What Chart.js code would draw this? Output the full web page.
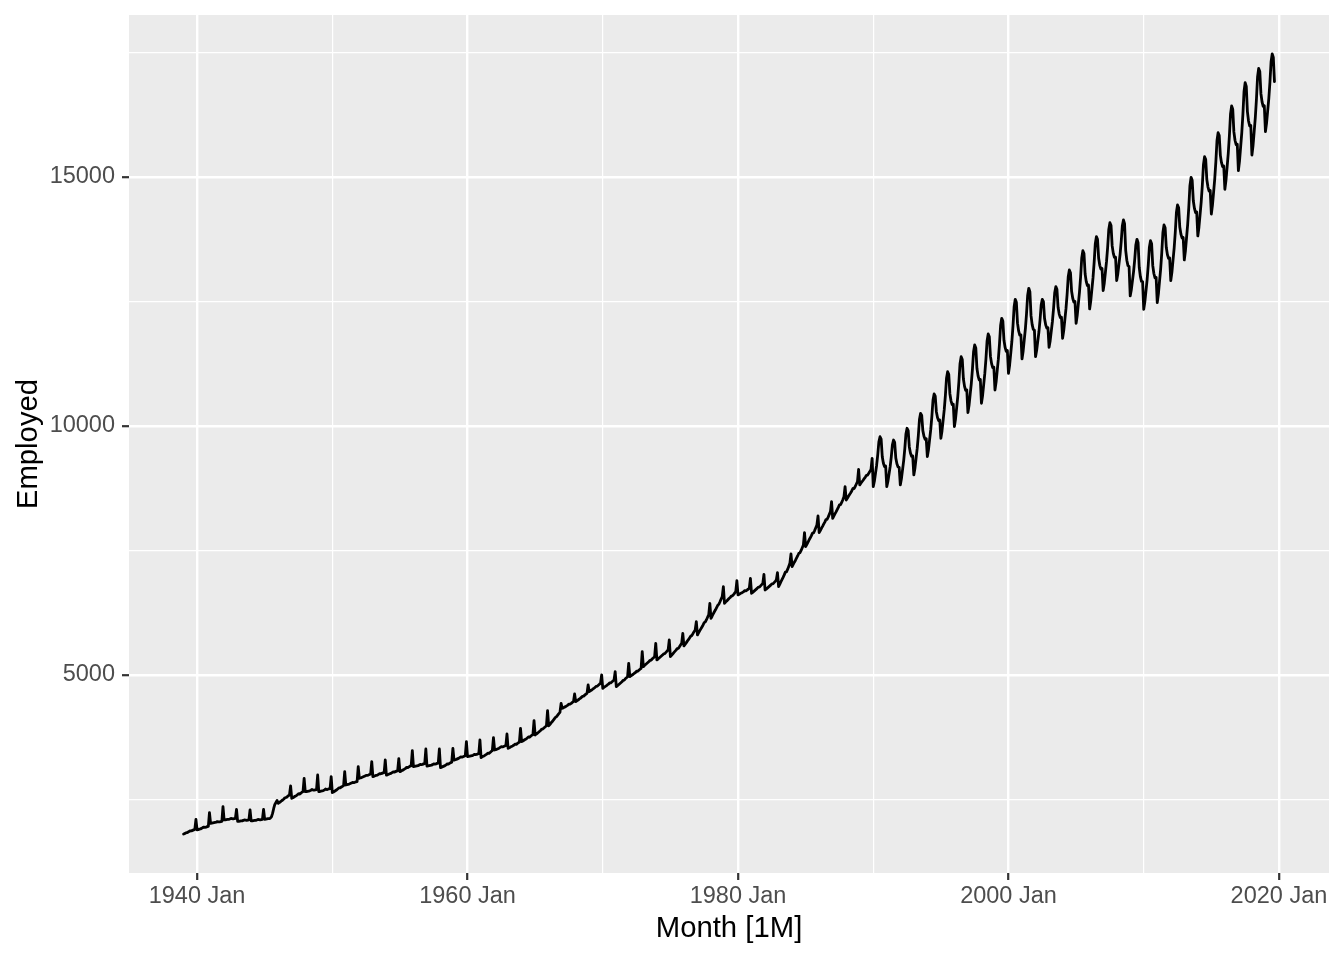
<!DOCTYPE html>
<html><head><meta charset="utf-8">
<script src="https://cdn.jsdelivr.net/npm/chart.js@4.4.1/dist/chart.umd.min.js"></script>
<style>html,body{margin:0;padding:0;background:#fff;}#c{display:block;}</style>
</head><body>
<canvas id="c" width="1344" height="960" style="width:1344px;height:960px"></canvas>
<script>
// Monthly series, starting January 1939
const startYear = 1939;
const emp1930s = [
  1807,1815,1830,1835,1845,1860,1870,1870,1880,1890,1900,2102
];
const emp1940s = [
  1890,1895,1905,1910,1920,1935,1945,1940,1945,1955,1960,2236,
  2020,2025,2030,2035,2040,2045,2055,2050,2050,2055,2060,2356,
  2090,2090,2095,2100,2100,2110,2120,2115,2110,2115,2120,2303,
  2060,2060,2065,2070,2070,2080,2090,2085,2080,2085,2090,2290,
  2070,2070,2075,2080,2080,2090,2100,2095,2090,2095,2100,2303,
  2100,2105,2110,2115,2115,2125,2150,2220,2320,2400,2440,2480,
  2423,2440,2455,2475,2490,2510,2535,2540,2555,2575,2591,2771,
  2524,2535,2550,2565,2575,2595,2615,2610,2625,2645,2658,2925,
  2658,2660,2665,2670,2675,2685,2700,2690,2690,2695,2700,2992,
  2658,2660,2670,2675,2680,2690,2710,2700,2705,2715,2720,2959
];
const emp1950s = [
  2638,2650,2665,2680,2695,2715,2735,2735,2750,2765,2780,3059,
  2791,2800,2805,2810,2820,2830,2845,2840,2845,2855,2860,3159,
  2925,2935,2940,2950,2960,2970,2985,2985,2990,3000,3010,3260,
  2960,2965,2975,2985,2990,3005,3020,3015,3025,3035,3040,3293,
  2990,2995,3005,3015,3025,3040,3055,3050,3060,3070,3080,3320,
  3060,3070,3085,3095,3110,3125,3145,3140,3155,3170,3180,3481,
  3160,3165,3170,3175,3180,3190,3205,3200,3205,3215,3220,3514,
  3170,3175,3180,3185,3190,3200,3215,3210,3215,3225,3230,3514,
  3140,3150,3160,3170,3180,3195,3215,3210,3225,3240,3250,3527,
  3290,3300,3305,3315,3325,3340,3355,3350,3360,3370,3380,3661
];
const emp1960s = [
  3360,3365,3370,3375,3380,3390,3405,3400,3405,3415,3420,3695,
  3340,3355,3370,3380,3395,3410,3430,3425,3445,3465,3480,3742,
  3494,3500,3510,3520,3530,3545,3560,3555,3565,3575,3580,3815,
  3527,3540,3550,3565,3575,3590,3610,3605,3620,3640,3650,3929,
  3661,3675,3690,3705,3715,3735,3755,3750,3770,3790,3800,4083,
  3795,3815,3830,3850,3870,3890,3915,3920,3940,3960,3980,4284,
  3980,4005,4035,4060,4090,4120,4150,4165,4195,4225,4250,4431,
  4331,4340,4355,4365,4380,4395,4415,4415,4430,4450,4465,4619,
  4465,4480,4495,4515,4530,4550,4570,4575,4595,4615,4632,4800,
  4666,4680,4695,4715,4730,4750,4770,4775,4795,4815,4833,5000
];
const emp1970s = [
  4733,4750,4765,4780,4800,4815,4840,4840,4860,4880,4900,5067,
  4766,4785,4805,4825,4845,4865,4890,4895,4925,4945,4967,5235,
  4967,4985,5000,5015,5035,5050,5075,5075,5095,5115,5134,5469,
  5168,5190,5210,5230,5250,5270,5295,5300,5325,5345,5369,5636,
  5302,5320,5340,5360,5380,5400,5425,5430,5455,5480,5503,5703,
  5369,5395,5420,5450,5475,5500,5530,5535,5565,5600,5636,5837,
  5583,5615,5645,5680,5710,5745,5780,5790,5830,5870,5904,6071,
  5804,5845,5885,5925,5965,6005,6050,6065,6110,6160,6207,6439,
  6138,6180,6225,6270,6310,6355,6400,6420,6470,6525,6573,6774,
  6440,6465,6485,6510,6535,6555,6585,6590,6615,6645,6674,6895
];
const emp1980s = [
  6607,6620,6635,6645,6660,6675,6695,6690,6705,6725,6741,6942,
  6640,6660,6680,6700,6720,6740,6765,6765,6790,6815,6841,7022,
  6707,6725,6745,6765,6785,6805,6830,6830,6855,6880,6908,7055,
  6774,6820,6870,6915,6960,7010,7065,7070,7120,7180,7243,7430,
  7176,7220,7265,7305,7350,7395,7445,7455,7500,7555,7611,7858,
  7577,7620,7665,7710,7750,7795,7845,7855,7900,7955,8012,8193,
  7858,7900,7945,7985,8030,8070,8120,8125,8170,8225,8280,8481,
  8146,8190,8235,8275,8320,8365,8415,8420,8465,8520,8581,8782,
  8514,8550,8590,8625,8660,8700,8745,8745,8785,8835,8882,9130,
  8816,8850,8880,8910,8945,8975,9010,9015,9050,9090,9130,9351
];
const emp1990s = [
  8781,8891,9052,9213,9424,9685,9785,9735,9383,9253,9183,9195,
  8781,8884,9034,9184,9381,9624,9718,9673,9357,9240,9177,9170,
  8816,8941,9123,9305,9544,9840,9954,9907,9579,9457,9392,9400,
  9017,9153,9351,9549,9809,10131,10255,10212,9907,9794,9733,9745,
  9385,9523,9725,9926,10190,10517,10643,10599,10287,10171,10109,10120,
  9753,9900,10114,10328,10609,10957,11091,11036,10649,10506,10429,10440,
  9987,10142,10366,10591,10886,11252,11392,11336,10942,10796,10718,10725,
  10268,10417,10635,10852,11138,11491,11627,11568,11159,11006,10924,10935,
  10456,10609,10832,11055,11347,11709,11848,11792,11398,11252,11173,11180,
  10723,10881,11112,11342,11644,12018,12162,12107,11720,11577,11500,11515
];
const emp2000s = [
  11058,11221,11459,11697,12009,12395,12544,12484,12065,11909,11825,11830,
  11346,11502,11729,11956,12254,12623,12765,12696,12216,12037,11941,11925,
  11392,11519,11703,11887,12129,12429,12544,12496,12158,12033,11966,11975,
  11580,11714,11909,12104,12360,12676,12798,12746,12383,12248,12176,12185,
  11761,11912,12131,12351,12639,12996,13133,13079,12705,12565,12490,12500,
  12062,12222,12456,12689,12996,13375,13521,13462,13053,12900,12818,12830,
  12350,12510,12742,12974,13279,13657,13802,13748,13368,13227,13152,13165,
  12718,12868,13087,13305,13592,13947,14083,14025,13617,13466,13385,13390,
  12919,13053,13248,13443,13699,14015,14137,14061,13527,13328,13221,13200,
  12611,12736,12918,13100,13339,13635,13749,13679,13187,13004,12905,12900
];
const emp2010s = [
  12343,12495,12715,12936,13226,13584,13722,13660,13224,13062,12975,12985,
  12477,12648,12898,13147,13475,13880,14036,13980,13589,13444,13366,13375,
  12919,13086,13329,13572,13891,14286,14438,14383,13996,13853,13776,13785,
  13334,13516,13782,14047,14396,14827,14993,14934,14522,14369,14287,14300,
  13816,13991,14246,14501,14835,15249,15408,15350,14948,14798,14717,14730,
  14257,14437,14698,14959,15302,15727,15890,15833,15435,15287,15208,15220,
  14753,14937,15205,15472,15824,16259,16426,16361,15906,15738,15647,15660,
  15127,15321,15604,15887,16258,16717,16894,16821,16313,16124,16023,16035,
  15442,15633,15912,16190,16556,17008,17182,17118,16673,16508,16419,16430,
  15910,16082,16331,16581,16908,17314,17470,17400,16915
];

// Axis breaks: grid lines (major + minor) and labelled major ticks
const xGridYears = [1940, 1950, 1960, 1970, 1980, 1990, 2000, 2010, 2020];
const xMajorYears = [1940, 1960, 1980, 2000, 2020];
const yGridValues = [2500, 5000, 7500, 10000, 12500, 15000, 17500];
const yMajorValues = [5000, 10000, 15000];
const xTitleText = 'Month [1M]';
const yTitleText = 'Employed';

const employed = [].concat(emp1930s, emp1940s, emp1950s, emp1960s, emp1970s, emp1980s, emp1990s, emp2000s, emp2010s);
const points = employed.map((v, i) => ({ x: startYear + i / 12, y: v }));

// ggplot-style 5% expansion of the data range
const xLo = points[0].x, xHi = points[points.length - 1].x;
const yLo = Math.min(...employed), yHi = Math.max(...employed);
const xPad = (xHi - xLo) * 0.05, yPad = (yHi - yLo) * 0.05;

const FONT = "'Liberation Sans', Arial, Helvetica, sans-serif";
const isMajorX = v => xMajorYears.includes(Math.round(v));
const isMajorY = v => yMajorValues.includes(Math.round(v));

const bgPlugin = {
  id: 'bg',
  beforeDraw(chart) {
    const { ctx, chartArea: a } = chart;
    ctx.save();
    ctx.fillStyle = '#FFFFFF';
    ctx.fillRect(0, 0, chart.width, chart.height);
    ctx.fillStyle = '#EBEBEB';
    ctx.fillRect(a.left, a.top, a.right - a.left, a.bottom - a.top);
    ctx.restore();
  }
};

new Chart(document.getElementById('c'), {
  type: 'line',
  data: {
    datasets: [{
      data: points,
      borderColor: '#000000',
      borderWidth: 2.8,
      pointRadius: 0,
      tension: 0,
      fill: false,
      borderJoinStyle: 'round',
      borderCapStyle: 'round'
    }]
  },
  options: {
    responsive: false,
    animation: false,
    devicePixelRatio: 1,
    events: [],
    parsing: false,
    layout: { padding: { left: 0, right: 15, top: 15, bottom: 0 } },
    plugins: { legend: { display: false }, tooltip: { enabled: false } },
    scales: {
      x: {
        type: 'linear',
        min: xLo - xPad,
        max: xHi + xPad,
        afterBuildTicks: s => { s.ticks = xGridYears.map(v => ({ value: v })); },
        afterFit: s => { s.height = 87; s.paddingLeft = 0; s.paddingRight = 0; },
        border: { display: false },
        grid: {
          color: '#FFFFFF',
          lineWidth: c => (c.tick && isMajorX(c.tick.value)) ? 2.4 : 1.2,
          tickColor: c => (c.tick && isMajorX(c.tick.value)) ? '#333333' : 'rgba(0,0,0,0)',
          tickLength: 7,
          tickWidth: 2.2,
          drawTicks: true
        },
        ticks: {
          autoSkip: false,
          maxRotation: 0,
          padding: 2,
          color: '#4D4D4D',
          font: { family: FONT, size: 23.5 },
          callback: v => isMajorX(v) ? Math.round(v) + ' Jan' : ''
        },
        title: {
          display: true,
          text: xTitleText,
          color: '#000000',
          font: { family: FONT, size: 29.3 },
          padding: { top: 0, bottom: 14 }
        }
      },
      y: {
        type: 'linear',
        min: yLo - yPad,
        max: yHi + yPad,
        afterBuildTicks: s => { s.ticks = yGridValues.map(v => ({ value: v })); },
        afterFit: s => { s.width = 129; s.paddingTop = 0; s.paddingBottom = 0; },
        border: { display: false },
        grid: {
          color: '#FFFFFF',
          lineWidth: c => (c.tick && isMajorY(c.tick.value)) ? 2.4 : 1.2,
          tickColor: c => (c.tick && isMajorY(c.tick.value)) ? '#333333' : 'rgba(0,0,0,0)',
          tickLength: 7,
          tickWidth: 2.2,
          drawTicks: true
        },
        ticks: {
          autoSkip: false,
          padding: 7,
          color: '#4D4D4D',
          font: { family: FONT, size: 23.5 },
          callback: v => isMajorY(v) ? String(Math.round(v)) : ''
        },
        title: {
          display: true,
          text: yTitleText,
          color: '#000000',
          font: { family: FONT, size: 29.3 },
          padding: { top: 11, bottom: 0 }
        }
      }
    }
  },
  plugins: [bgPlugin]
});
</script>
</body></html>
